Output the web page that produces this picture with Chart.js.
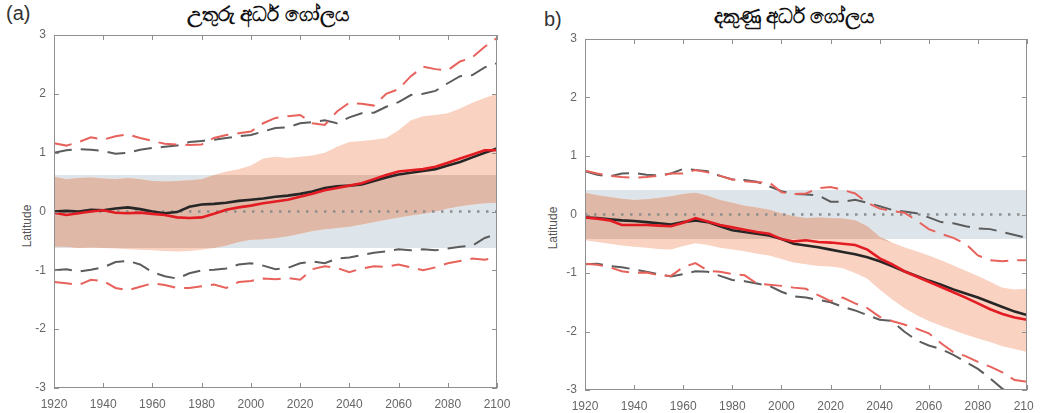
<!DOCTYPE html>
<html>
<head>
<meta charset="utf-8">
<script src="https://cdn.jsdelivr.net/npm/chart.js@4/dist/chart.umd.min.js"></script>
<style>
  body { margin: 0; background: #fff; width: 1044px; height: 413px; overflow: hidden; position: relative; font-family: "Liberation Sans", Arial, sans-serif; }
  canvas { position: absolute; top: 0; }
  #chartA { left: 0; }
  #chartB { left: 520px; }
  .title { position: absolute; font-weight: bold; font-size: 20px; color: #111; font-family: "Noto Sans", "Liberation Sans", sans-serif; transform: translateX(-50%); white-space: nowrap; line-height: 24px; }
  .panel { position: absolute; font-size: 20px; color: #333; }
  .ylab { position: absolute; font-size: 12px; color: #555; transform: translate(-50%, -50%) rotate(-90deg); white-space: nowrap; }
</style>
</head>
<body>
<div class="panel" style="left:6px; top:2px;">(a)</div>
<div class="title" style="left:268px; top:2px;">උතුරු අර්ධ ගෝලය</div>
<div class="panel" style="left:544px; top:8px;">b)</div>
<div class="title" style="left:794px; top:4px;">දකුණු අර්ධ ගෝලය</div>
<div class="ylab" style="left:27px; top:226px;">Latitude</div>
<div class="ylab" style="left:553px; top:228px;">Latitude</div>
<canvas id="chartA" width="520" height="413"></canvas>
<canvas id="chartB" width="514" height="413"></canvas>
<script>
// --- Data (5-year steps) ---
const years = [1920,1925,1930,1935,1940,1945,1950,1955,1960,1965,1970,1975,1980,1985,1990,1995,2000,2005,2010,2015,2020,2025,2030,2035,2040,2045,2050,2055,2060,2065,2070,2075,2080,2085,2090,2095,2100];
const yTicks = [-3, -2, -1, 0, 1, 2, 3];
const xTicks = [1920, 1940, 1960, 1980, 2000, 2020, 2040, 2060, 2080, 2100];

// (a) northern hemisphere
const northBlack = [0.00,0.01,0.00,0.03,0.02,0.05,0.07,0.04,0.00,-0.03,-0.01,0.08,0.12,0.13,0.15,0.18,0.20,0.22,0.25,0.27,0.30,0.34,0.40,0.43,0.44,0.46,0.52,0.58,0.63,0.66,0.69,0.72,0.78,0.84,0.92,1.00,1.07];
const northRed = [-0.02,-0.06,-0.03,0.00,0.02,-0.02,-0.03,-0.02,-0.04,-0.06,-0.10,-0.11,-0.10,-0.04,0.03,0.07,0.10,0.14,0.17,0.20,0.25,0.30,0.36,0.40,0.44,0.48,0.55,0.62,0.68,0.70,0.72,0.76,0.83,0.90,0.97,1.04,1.04];
const northBlackHi = [1.00,1.04,1.06,1.05,1.03,0.98,1.00,1.05,1.08,1.10,1.12,1.18,1.20,1.22,1.25,1.28,1.30,1.36,1.42,1.43,1.50,1.52,1.55,1.50,1.60,1.67,1.68,1.78,1.86,1.98,2.00,2.05,2.18,2.30,2.32,2.45,2.52];
const northRedHi = [1.16,1.12,1.18,1.26,1.22,1.28,1.31,1.25,1.20,1.15,1.14,1.13,1.14,1.25,1.30,1.33,1.36,1.50,1.59,1.62,1.64,1.50,1.47,1.70,1.85,1.83,1.80,2.00,2.08,2.30,2.46,2.42,2.40,2.55,2.62,2.80,2.95];
const northBlackLo = [-1.00,-0.98,-1.02,-0.99,-0.95,-0.86,-0.84,-0.90,-1.03,-1.10,-1.14,-1.05,-1.00,-0.99,-0.97,-0.90,-0.88,-0.92,-0.98,-0.96,-0.88,-0.85,-0.88,-0.80,-0.78,-0.74,-0.70,-0.68,-0.64,-0.66,-0.64,-0.66,-0.63,-0.60,-0.58,-0.45,-0.38];
const northRedLo = [-1.20,-1.22,-1.25,-1.16,-1.18,-1.30,-1.34,-1.28,-1.22,-1.25,-1.30,-1.30,-1.27,-1.24,-1.30,-1.20,-1.18,-1.14,-1.15,-1.13,-1.16,-0.98,-0.93,-0.96,-1.03,-0.97,-0.93,-0.94,-0.90,-0.95,-1.00,-0.95,-0.88,-0.84,-0.80,-0.82,-0.78];
const northSpreadHi = [0.59,0.55,0.57,0.58,0.56,0.55,0.57,0.55,0.52,0.51,0.52,0.53,0.55,0.62,0.68,0.72,0.78,0.90,0.93,0.91,0.93,0.95,1.00,1.10,1.18,1.20,1.22,1.25,1.38,1.55,1.62,1.64,1.67,1.75,1.85,1.93,2.00];
const northSpreadLo = [-0.60,-0.60,-0.62,-0.61,-0.62,-0.63,-0.64,-0.65,-0.66,-0.67,-0.68,-0.67,-0.65,-0.62,-0.58,-0.52,-0.48,-0.47,-0.45,-0.42,-0.38,-0.33,-0.30,-0.28,-0.26,-0.22,-0.18,-0.14,-0.10,-0.07,-0.04,0.00,0.05,0.09,0.12,0.14,0.15];
const northBand = [0.62, -0.62];

// (b) southern hemisphere
const southBlack = [-0.05,-0.06,-0.08,-0.10,-0.11,-0.13,-0.15,-0.17,-0.13,-0.10,-0.13,-0.20,-0.27,-0.30,-0.33,-0.36,-0.42,-0.50,-0.53,-0.56,-0.60,-0.64,-0.68,-0.73,-0.80,-0.88,-0.97,-1.05,-1.13,-1.20,-1.28,-1.35,-1.42,-1.50,-1.58,-1.66,-1.72];
const southRed = [-0.05,-0.07,-0.10,-0.18,-0.18,-0.18,-0.19,-0.20,-0.14,-0.06,-0.12,-0.18,-0.22,-0.26,-0.30,-0.33,-0.42,-0.46,-0.44,-0.47,-0.48,-0.50,-0.52,-0.60,-0.75,-0.85,-0.97,-1.06,-1.15,-1.24,-1.33,-1.42,-1.52,-1.62,-1.70,-1.76,-1.80];
const southBlackHi = [0.74,0.68,0.65,0.70,0.71,0.68,0.67,0.70,0.78,0.76,0.74,0.66,0.60,0.59,0.56,0.48,0.40,0.35,0.34,0.33,0.22,0.22,0.25,0.20,0.14,0.08,0.05,0.02,-0.05,-0.13,-0.15,-0.20,-0.24,-0.25,-0.30,-0.35,-0.40];
const southRedHi = [0.75,0.70,0.66,0.64,0.63,0.64,0.66,0.70,0.70,0.76,0.72,0.66,0.60,0.57,0.55,0.55,0.38,0.35,0.36,0.45,0.47,0.42,0.36,0.20,0.10,0.06,0.03,-0.10,-0.25,-0.33,-0.40,-0.50,-0.70,-0.78,-0.80,-0.78,-0.78];
const southBlackLo = [-0.85,-0.84,-0.88,-0.90,-0.94,-0.98,-1.02,-1.06,-1.02,-0.97,-0.98,-1.05,-1.12,-1.14,-1.18,-1.22,-1.32,-1.40,-1.42,-1.46,-1.50,-1.58,-1.64,-1.72,-1.80,-1.82,-2.00,-2.15,-2.24,-2.30,-2.40,-2.52,-2.64,-2.80,-2.98,-3.10,-3.20];
const southRedLo = [-0.84,-0.86,-0.90,-0.97,-1.00,-0.99,-1.04,-1.05,-0.90,-0.83,-0.96,-0.98,-1.02,-1.04,-1.18,-1.20,-1.22,-1.25,-1.27,-1.38,-1.48,-1.42,-1.52,-1.60,-1.75,-1.82,-1.88,-1.95,-2.03,-2.20,-2.35,-2.42,-2.52,-2.60,-2.70,-2.83,-2.86];
const southSpreadHi = [0.37,0.33,0.30,0.27,0.25,0.26,0.28,0.31,0.35,0.37,0.32,0.25,0.20,0.15,0.12,0.08,0.02,-0.03,-0.06,-0.05,-0.06,-0.07,-0.10,-0.20,-0.38,-0.48,-0.56,-0.63,-0.70,-0.78,-0.87,-0.96,-1.05,-1.15,-1.25,-1.28,-1.27];
const southSpreadLo = [-0.44,-0.47,-0.50,-0.53,-0.55,-0.57,-0.59,-0.60,-0.54,-0.49,-0.52,-0.57,-0.60,-0.63,-0.67,-0.70,-0.76,-0.82,-0.85,-0.88,-0.89,-0.92,-1.00,-1.10,-1.28,-1.45,-1.60,-1.72,-1.82,-1.90,-1.98,-2.05,-2.12,-2.18,-2.25,-2.30,-2.35];
const southBand = [0.42, -0.42];

// --- Colours ---
const BAND_BLUE = '#dde5ea';
const BAND_SALMON = '#f9d2c1';
const BAND_OVERLAP = '#dfb8a7';

const pts = arr => years.map((x, i) => ({ x, y: arr[i] }));
const flat = v => years.map(x => ({ x, y: v }));

function line(data, color, width, dash, order, fill) {
    return {
        data, borderColor: color, borderWidth: width, borderDash: dash || [],
        backgroundColor: fill ? fill.color : 'transparent',
        fill: fill ? fill.target : false,
        pointRadius: 0, tension: 0, order
    };
}

function buildDatasets(d) {
    // overlap of the spread band with the reference band
    const ovHi = d.spreadHi.map(v => Math.min(v, d.band[0]));
    const ovLo = d.spreadLo.map((v, i) => Math.min(Math.max(v, d.band[1]), ovHi[i]));
    return [
        line(flat(d.band[0]), 'transparent', 0, null, 20, { target: 1, color: BAND_BLUE }),
        line(flat(d.band[1]), 'transparent', 0, null, 19),
        line(pts(d.spreadHi), 'transparent', 0, null, 18, { target: 3, color: BAND_SALMON }),
        line(pts(d.spreadLo), 'transparent', 0, null, 17),
        line(pts(ovHi), 'transparent', 0, null, 16, { target: 5, color: BAND_OVERLAP }),
        line(pts(ovLo), 'transparent', 0, null, 15),
        line(flat(0), '#8d8d8d', 2.5, [2.5, 6.5], 14),
        line(pts(d.blackLo), '#5c5c5c', 2, [18, 9], 13),
        line(pts(d.redLo), '#e8625c', 2, [18, 9], 12),
        line(pts(d.blackHi), '#5c5c5c', 2, [18, 9], 11),
        line(pts(d.redHi), '#e8625c', 2, [18, 9], 10),
        line(pts(d.black), '#262626', 2.6, null, 2),
        line(pts(d.red), '#e31b22', 2.6, null, 1)
    ];
}

// MATLAB-like box with inward ticks
const boxTicks = {
    id: 'boxTicks',
    afterDraw(chart) {
        const { ctx, chartArea: a, scales: { x, y } } = chart;
        ctx.save();
        ctx.strokeStyle = '#8f8f8f';
        ctx.lineWidth = 1;
        ctx.strokeRect(Math.round(a.left) + 0.5, Math.round(a.top) + 0.5, Math.round(a.width) - 1, Math.round(a.height) - 1);
        ctx.beginPath();
        x.ticks.forEach(t => {
            const px = Math.round(x.getPixelForValue(t.value)) + 0.5;
            ctx.moveTo(px, a.bottom); ctx.lineTo(px, a.bottom - 5);
            ctx.moveTo(px, a.top); ctx.lineTo(px, a.top + 5);
        });
        y.ticks.forEach(t => {
            const py = Math.round(y.getPixelForValue(t.value)) + 0.5;
            ctx.moveTo(a.left, py); ctx.lineTo(a.left + 5, py);
            ctx.moveTo(a.right, py); ctx.lineTo(a.right - 5, py);
        });
        ctx.stroke();
        ctx.restore();
    }
};

function makeChart(id, d, geo) {
    return new Chart(document.getElementById(id), {
        type: 'line',
        data: { datasets: buildDatasets(d) },
        options: {
            responsive: false,
            animation: false,
            layout: { padding: { top: geo.top, right: geo.right, bottom: 0, left: 0 } },
            plugins: { legend: { display: false }, tooltip: { enabled: false } },
            scales: {
                x: {
                    type: 'linear', min: 1920, max: 2100,
                    afterBuildTicks: s => { s.ticks = xTicks.map(v => ({ value: v })); },
                    afterFit: s => { s.height = geo.xHeight; s.paddingLeft = 0; s.paddingRight = 0; },
                    grid: { display: false, drawTicks: false },
                    border: { display: false },
                    ticks: {
                        padding: 9, color: '#666', maxRotation: 0, autoSkip: false,
                        callback: v => String(v),
                        font: { family: 'Liberation Sans, Arial, sans-serif', size: 12 }
                    }
                },
                y: {
                    min: -3, max: 3,
                    afterBuildTicks: s => { s.ticks = yTicks.map(v => ({ value: v })); },
                    afterFit: s => { s.width = geo.yWidth; },
                    grid: { display: false, drawTicks: false },
                    border: { display: false },
                    ticks: { padding: 8, color: '#666', callback: v => String(v), font: { family: 'Liberation Sans, Arial, sans-serif', size: 12 } }
                }
            }
        },
        plugins: [boxTicks]
    });
}

makeChart('chartA', {
    black: northBlack, red: northRed, blackHi: northBlackHi, redHi: northRedHi,
    blackLo: northBlackLo, redLo: northRedLo, spreadHi: northSpreadHi, spreadLo: northSpreadLo, band: northBand
}, { top: 35, right: 23, xHeight: 25, yWidth: 54 });

makeChart('chartB', {
    black: southBlack, red: southRed, blackHi: southBlackHi, redHi: southRedHi,
    blackLo: southBlackLo, redLo: southRedLo, spreadHi: southSpreadHi, spreadLo: southSpreadLo, band: southBand
}, { top: 39, right: 7, xHeight: 23, yWidth: 65 });
</script>
</body>
</html>
